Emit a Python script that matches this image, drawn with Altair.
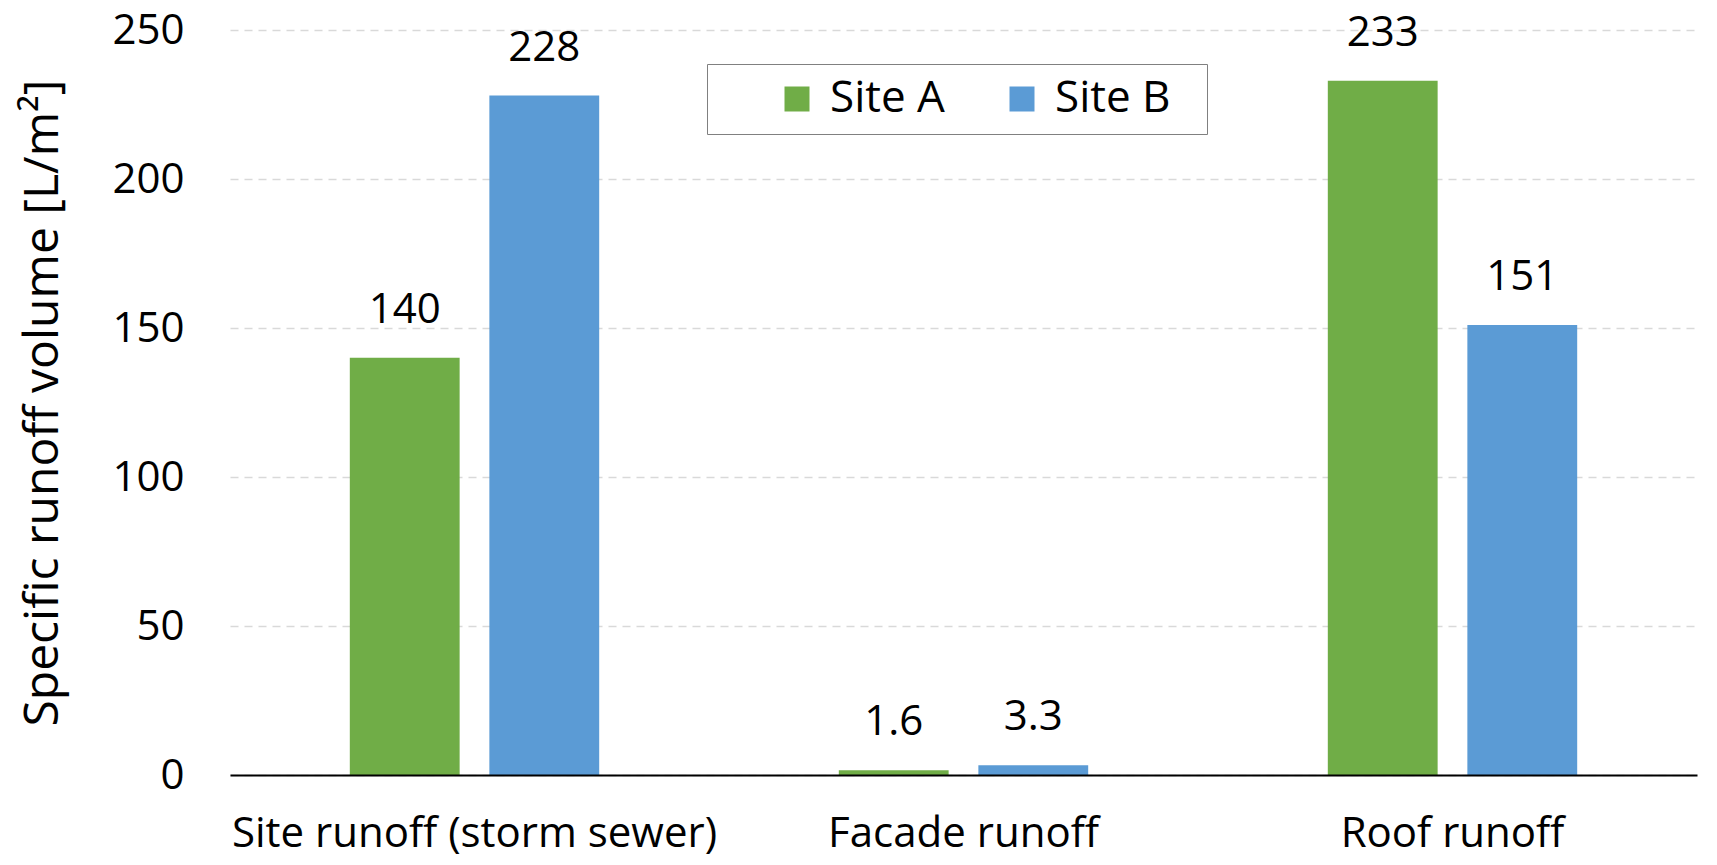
import altair as alt
import pandas as pd

categories = ["Site runoff (storm sewer)", "Facade runoff", "Roof runoff"]
series = ["Site A", "Site B"]
site_a = [140, 1.6, 233]
site_b = [228, 3.3, 151]
colors = ["#70AD47", "#5B9BD5"]
y_ticks = [0, 50, 100, 150, 200, 250]

rows = []
for c, a, b in zip(categories, site_a, site_b):
    rows.append({"category": c, "series": "Site A", "value": a, "label": f"{a:g}"})
    rows.append({"category": c, "series": "Site B", "value": b, "label": f"{b:g}"})
df = pd.DataFrame(rows)

FONT = "Open Sans"
FS = 42
PAD = "\u00a0\u00a0\u200b"

base = alt.Chart(df).encode(
    x=alt.X(
        "category:N",
        sort=categories,
        scale=alt.Scale(paddingInner=0.49, paddingOuter=0.245),
        axis=alt.Axis(
            title=None, labelAngle=0, labelFontSize=FS, labelFont=FONT,
            labelColor="black", domainColor="black", domainWidth=2,
            ticks=False, labelPadding=38, zindex=1, labelLimit=1000,
        ),
    ),
    xOffset=alt.XOffset("series:N", sort=series,
                        scale=alt.Scale(paddingInner=0.213, paddingOuter=0)),
    y=alt.Y(
        "value:Q",
        scale=alt.Scale(domain=[0, 250], nice=False),
        axis=alt.Axis(
            values=y_ticks, grid=True, gridDash=[8, 6], gridColor="#D9D9D9",
            gridWidth=1.5, domain=False, ticks=False, labelFontSize=FS,
            labelFont=FONT, labelColor="black", labelPadding=46,
            title="Specific runoff volume [L/m²]", titleFontSize=48,
            titleFont=FONT, titleFontWeight="normal", titleColor="black",
            titlePadding=44,
        ),
    ),
)

bars = base.mark_bar().encode(
    color=alt.Color(
        "series:N",
        scale=alt.Scale(domain=series, range=colors),
        legend=alt.Legend(
            title=None, orient="none", legendX=477, legendY=34,
            direction="horizontal", strokeColor="#808080", fillColor="white",
            padding=13, symbolType="square", symbolSize=625,
            symbolStrokeWidth=0, labelFontSize=44, labelFont=FONT,
            labelColor="black", labelOffset=11, columnPadding=0,
            symbolOffset=55,
            labelExpr="datum.label == 'Site B' ? datum.label + '" + PAD + "' : datum.label",
        ),
    )
)

text = base.mark_text(dy=-35, baseline="alphabetic", fontSize=FS, font=FONT,
                      color="black").encode(text="label:N")

chart = (bars + text).properties(
    width=1467, height=745,
    autosize=alt.AutoSizeParams(type="none"),
    padding={"left": 222, "top": 22, "right": 10, "bottom": 82},
).configure_view(stroke=None)

chart.save("out.html", embed_options={"renderer": "svg", "actions": False})
